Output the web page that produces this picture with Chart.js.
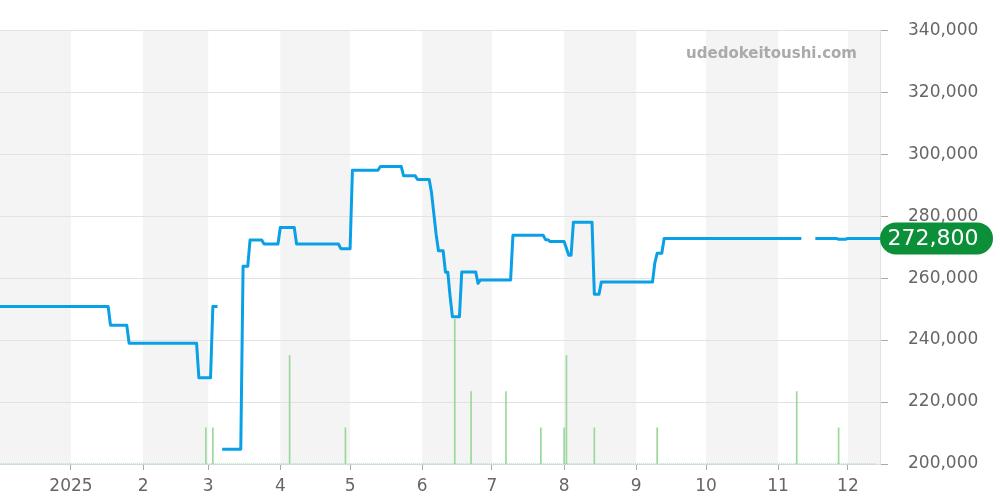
<!DOCTYPE html>
<html>
<head>
<meta charset="utf-8">
<script src="https://cdn.jsdelivr.net/npm/chart.js@4/dist/chart.umd.min.js"></script>
<style>
  html, body { margin: 0; padding: 0; background: #fff; }
  #wrap { width: 1000px; height: 500px; }
</style>
</head>
<body>
<div id="wrap"><canvas id="price-chart"></canvas></div>
<script>
// price history (null = no data, line is broken there)
const priceDates = [
    '2024-12-01', '2025-01-17', '2025-01-18', '2025-01-25', '2025-01-26', '2025-02-24', '2025-02-25',
    '2025-03-02', '2025-03-03', '2025-03-05', '2025-03-06', '2025-03-07', '2025-03-15', '2025-03-16',
    '2025-03-18', '2025-03-19', '2025-03-24', '2025-03-25', '2025-03-31', '2025-04-01', '2025-04-07',
    '2025-04-08', '2025-04-26', '2025-04-27', '2025-05-01', '2025-05-02', '2025-05-13', '2025-05-14',
    '2025-05-23', '2025-05-24', '2025-05-29', '2025-05-30', '2025-06-04', '2025-06-05', '2025-06-07',
    '2025-06-08', '2025-06-10', '2025-06-11', '2025-06-12', '2025-06-13', '2025-06-14', '2025-06-17',
    '2025-06-18', '2025-06-24', '2025-06-25', '2025-06-26', '2025-07-09', '2025-07-10', '2025-07-23',
    '2025-07-24', '2025-07-25', '2025-07-26', '2025-08-01', '2025-08-03', '2025-08-04', '2025-08-05',
    '2025-08-13', '2025-08-14', '2025-08-16', '2025-08-17', '2025-09-08', '2025-09-09', '2025-09-10',
    '2025-09-12', '2025-09-13', '2025-11-11', '2025-11-12', '2025-11-17', '2025-11-26', '2025-11-27',
    '2025-11-30', '2025-12-01', '2025-12-15'
];
const priceValues = [
    250800, 250800, 244800, 244800, 239000, 239000, 227800,
    227800, 250800, 250800, null, 204800, 204800, 263800,
    263800, 272300, 272300, 271000, 271000, 276300, 276300,
    271000, 271000, 269500, 269500, 294800, 294800, 296000,
    296000, 293000, 293000, 291800, 291800, 287600, 274000,
    268800, 268800, 261900, 261900, 254000, 247500, 247500,
    262000, 262000, 258300, 259400, 259400, 273800, 273800,
    272400, 272400, 271800, 271800, 267400, 267400, 278000,
    278000, 254800, 254800, 258700, 258700, 264900, 268000,
    268000, 272800, 272800, null, 272800, 272800, 272500,
    272500, 272800, 272800
];

// number of trades per day (only the days that had some)
const volumeDates = [
    '2025-02-28', '2025-03-03', '2025-04-05', '2025-04-29', '2025-06-15', '2025-06-22', '2025-07-07',
    '2025-07-22', '2025-08-01', '2025-08-02', '2025-08-14', '2025-09-10', '2025-11-09', '2025-11-27'
];
const volumeValues = [1, 1, 3, 1, 4, 2, 2, 1, 1, 3, 1, 1, 2, 1];

const monthTickDates = [
    '2025-01-01', '2025-02-01', '2025-03-01', '2025-04-01', '2025-05-01', '2025-06-01',
    '2025-07-01', '2025-08-01', '2025-09-01', '2025-10-01', '2025-11-01', '2025-12-01'
];
const monthTickLabels = ['2025', '2', '3', '4', '5', '6', '7', '8', '9', '10', '11', '12'];
const shadedMonths = ['2024-12', '2025-02', '2025-04', '2025-06', '2025-08', '2025-10', '2025-12'];

const lastPrice = 272800;
const siteName = 'udedokeitoushi.com';

const ORIGIN = Date.UTC(2024, 11, 1);
function toDay(str) {
    const p = str.split('-').map(Number);
    return (Date.UTC(p[0], p[1] - 1, p[2] || 1) - ORIGIN) / 86400000;
}
function withCommas(v) {
    return String(v).replace(/\B(?=(\d{3})+(?!\d))/g, ',');
}

const pricePoints = priceDates.map((d, i) => ({ x: toDay(d), y: priceValues[i] }));
const volumePoints = volumeDates.map((d, i) => ({ x: toDay(d), y: volumeValues[i] }));
const monthTickDays = monthTickDates.map(toDay);

Chart.defaults.font.family = '"DejaVu Sans", sans-serif';
Chart.defaults.color = '#666';

const monthBands = {
    id: 'monthBands',
    beforeDraw(chart) {
        const { ctx, chartArea } = chart;
        const x = chart.scales.x;
        ctx.save();
        ctx.fillStyle = '#f4f4f4';
        shadedMonths.forEach(m => {
            const p = m.split('-').map(Number);
            const start = toDay(m);
            const end = (Date.UTC(p[0], p[1], 1) - ORIGIN) / 86400000;
            const x0 = Math.max(chartArea.left, x.getPixelForValue(start));
            const x1 = Math.min(chartArea.right, x.getPixelForValue(end));
            if (x1 > x0) ctx.fillRect(x0, chartArea.top, x1 - x0, chartArea.bottom - chartArea.top);
        });
        ctx.restore();
    }
};

const overlay = {
    id: 'overlay',
    afterDraw(chart) {
        const { ctx, chartArea } = chart;
        const y = chart.scales.y.getPixelForValue(lastPrice);
        ctx.save();
        // watermark
        ctx.font = 'bold 15px "DejaVu Sans"';
        ctx.fillStyle = '#aaa';
        ctx.textAlign = 'right';
        ctx.textBaseline = 'alphabetic';
        ctx.fillText(siteName, chartArea.right - 23, 58);
        // last price badge
        const bx = chartArea.right, bw = 113, bh = 32;
        ctx.fillStyle = '#0b9039';
        ctx.beginPath();
        ctx.roundRect(bx, y - bh / 2, bw, bh, bh / 2);
        ctx.fill();
        ctx.font = '22px "DejaVu Sans"';
        ctx.fillStyle = '#fff';
        ctx.textAlign = 'center';
        ctx.textBaseline = 'middle';
        ctx.fillText(withCommas(lastPrice), bx + 53, y + 1);
        ctx.restore();
    }
};

new Chart(document.getElementById('price-chart'), {
    type: 'line',
    data: {
        datasets: [
            {
                label: 'price',
                data: pricePoints,
                borderColor: '#0aa0e6',
                borderWidth: 3,
                borderJoinStyle: 'round',
                pointRadius: 0,
                spanGaps: false,
                yAxisID: 'y',
                order: 0,
            },
            {
                type: 'bar',
                label: 'volume',
                data: volumePoints,
                backgroundColor: '#9bd79b',
                barThickness: 1,
                yAxisID: 'vol',
                order: 1,
            },
            {
                label: 'base',
                data: [{ x: 0, y: 0 }, { x: toDay('2025-12-13'), y: 0 }],
                borderColor: '#a9dca9',
                borderWidth: 1.5,
                borderDash: [1, 1],
                pointRadius: 0,
                yAxisID: 'vol',
                clip: false,
                order: 2,
            },
        ],
    },
    options: {
        responsive: true,
        maintainAspectRatio: false,
        animation: false,
        events: [],
        layout: { padding: { top: 30, left: 0, right: 0, bottom: 0 } },
        plugins: {
            legend: { display: false },
            tooltip: { enabled: false },
        },
        scales: {
            x: {
                type: 'linear',
                position: 'bottom',
                offset: false,
                min: 0.5,
                max: 378.8,
                afterBuildTicks: scale => {
                    scale.ticks = monthTickDays.map(v => ({ value: v }));
                },
                afterFit: scale => { scale.height = 36; },
                grid: {
                    offset: false,
                    drawOnChartArea: false,
                    tickLength: 6,
                    tickColor: '#aaa',
                },
                border: { display: false },
                ticks: {
                    autoSkip: false,
                    maxRotation: 0,
                    padding: 6,
                    font: { size: 17 },
                    color: '#666',
                    callback: (v, i) => monthTickLabels[i],
                },
            },
            y: {
                type: 'linear',
                position: 'right',
                min: 200000,
                max: 340000,
                afterFit: scale => { scale.width = 120; },
                grid: {
                    color: '#e2e2e2',
                    tickLength: 8,
                    tickColor: '#aaa',
                },
                border: { display: true, color: '#e2e2e2' },
                ticks: {
                    stepSize: 20000,
                    padding: 20,
                    font: { size: 17 },
                    color: '#666',
                    callback: v => withCommas(v),
                },
            },
            vol: {
                type: 'linear',
                display: false,
                min: 0,
                max: 12,
            },
        },
    },
    plugins: [monthBands, overlay],
});
</script>
</body>
</html>
